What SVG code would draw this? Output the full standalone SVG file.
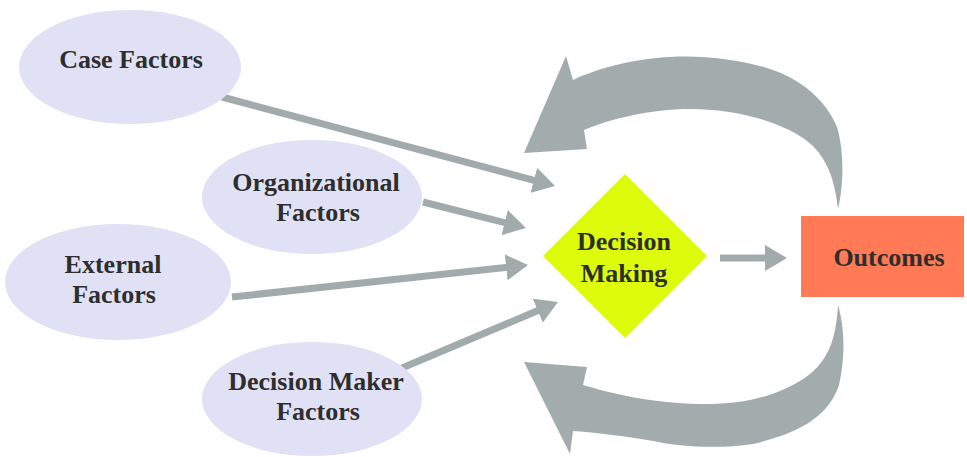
<svg xmlns="http://www.w3.org/2000/svg" width="967" height="457" viewBox="0 0 967 457">
<style>
.factor{fill:#E1E1F5;}
.lbl{font-family:"Liberation Serif","Times New Roman",serif;font-weight:bold;font-size:26px;fill:#2E2E2E;text-anchor:middle;}
.conn{stroke:#A2ABAB;stroke-width:7;fill:none;}
.big{fill:#A3ACAC;}
</style>
<defs>
<marker id="ah" viewBox="0 0 22 26" refX="8" refY="13" markerWidth="22" markerHeight="26" markerUnits="userSpaceOnUse" orient="auto">
<path d="M0,0 L22,13 L0,26 Z" fill="#A2ABAB"/>
</marker>
</defs>
<rect width="967" height="457" fill="#FFFFFF"/>
<g id="connectors">
<line class="conn" x1="222" y1="97" x2="541.5" y2="182.4" marker-end="url(#ah)"/>
<line class="conn" x1="423" y1="202" x2="512.4" y2="224.6" marker-end="url(#ah)"/>
<line class="conn" x1="232" y1="297" x2="514.1" y2="266.5" marker-end="url(#ah)"/>
<line class="conn" x1="402" y1="368" x2="545.1" y2="307.5" marker-end="url(#ah)"/>
<line class="conn" x1="720" y1="258" x2="773" y2="258" marker-end="url(#ah)"/>
<path id="feedback-top" class="big" d="M838,209 C844,185 844,150 837,127 C826,100 801,79 770,69 C740,59 700,55 670,57 C640,58 600,67 573,80 L566,56 L524,153 L587,149 L584,130 C610,119 650,109 690,109 C730,109 775,119 803,138 C822,151 834,171 838,209 Z"/>
<path id="feedback-bottom" class="big" d="M838,305 C844,325 846,355 839,385 C829,416 800,433 753,444 C720,449 680,447 653,441 C630,437 600,433 573,431 L570,454 L524,362 L587,367 L583,385 C610,393 650,403 700,404 C740,405 780,397 810,374 C828,359 836,340 838,305 Z"/>
</g>
<g id="case-factors">
<ellipse class="factor" cx="130" cy="67" rx="111" ry="57"/>
<text class="lbl" x="131" y="68">Case Factors</text>
</g>
<g id="organizational-factors">
<ellipse class="factor" cx="312" cy="197" rx="110" ry="57"/>
<text class="lbl" x="316" y="191">Organizational</text>
<text class="lbl" x="318" y="221">Factors</text>
</g>
<g id="external-factors">
<ellipse class="factor" cx="118" cy="282" rx="113" ry="58"/>
<text class="lbl" x="113" y="273">External</text>
<text class="lbl" x="114" y="303">Factors</text>
</g>
<g id="decision-maker-factors">
<ellipse class="factor" cx="312" cy="399" rx="110" ry="57"/>
<text class="lbl" x="316" y="390">Decision Maker</text>
<text class="lbl" x="318" y="420">Factors</text>
</g>
<g id="decision-making">
<polygon points="625,174 707,256 625,338 543,256" fill="#DCFC0C"/>
<text class="lbl" x="624" y="250">Decision</text>
<text class="lbl" x="624" y="282">Making</text>
</g>
<g id="outcomes">
<rect x="801" y="216" width="163" height="81" fill="#FF7A55"/>
<text class="lbl" x="889" y="266">Outcomes</text>
</g>
</svg>
